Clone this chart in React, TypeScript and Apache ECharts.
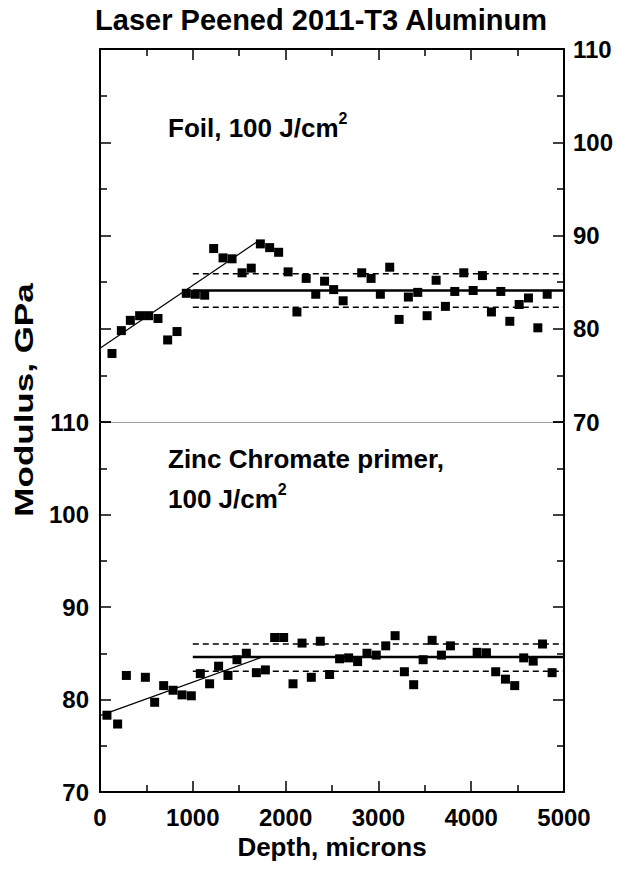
import React, { useEffect, useRef } from "react";
import * as echarts from "echarts";

// ---- Data ----
const foilDepth = [129, 230, 327, 427, 523, 625, 729, 830, 930, 1027, 1128, 1225, 1326, 1423, 1531, 1630, 1728, 1828, 1925, 2027, 2122, 2222, 2325, 2420, 2518, 2620, 2820, 2921, 3021, 3122, 3223, 3323, 3424, 3525, 3622, 3722, 3823, 3920, 4021, 4121, 4218, 4319, 4416, 4517, 4617, 4718, 4819];
const foilModulus = [77.35, 79.8, 80.9, 81.4, 81.4, 81.1, 78.8, 79.7, 83.8, 83.7, 83.6, 88.6, 87.6, 87.5, 86.0, 86.5, 89.1, 88.7, 88.2, 86.1, 81.8, 85.4, 83.7, 85.1, 84.2, 83.0, 86.0, 85.4, 83.7, 86.6, 81.0, 83.4, 83.9, 81.4, 85.2, 82.4, 84.0, 86.0, 84.1, 85.7, 81.8, 84.0, 80.8, 82.6, 83.3, 80.1, 83.7];

const zincDepth = [75, 190, 284, 489, 589, 686, 787, 884, 984, 1081, 1181, 1278, 1379, 1476, 1577, 1685, 1782, 1882, 1979, 2080, 2177, 2277, 2374, 2474, 2582, 2679, 2776, 2877, 2977, 3079, 3180, 3280, 3380, 3482, 3579, 3679, 3776, 4064, 4164, 4264, 4369, 4469, 4566, 4668, 4768, 4872];
const zincModulus = [78.3, 77.35, 82.6, 82.4, 79.7, 81.5, 81.0, 80.5, 80.4, 82.8, 81.7, 83.6, 82.6, 84.3, 85.0, 82.9, 83.2, 86.7, 86.7, 81.7, 86.1, 82.4, 86.3, 82.7, 84.4, 84.5, 84.1, 85.0, 84.8, 85.8, 86.9, 83.0, 81.6, 84.3, 86.4, 84.8, 85.8, 85.1, 85.05, 83.0, 82.2, 81.5, 84.5, 84.15, 86.0, 82.9];

const foilFitLine = [[0, 77.9], [1690, 89.3]];
const foilMean = [[1000, 84.1], [5000, 84.1]];
const foilUpper = [[1000, 85.9], [5000, 85.9]];
const foilLower = [[1000, 82.3], [5000, 82.3]];

const zincFitLine = [[0, 78.25], [1750, 84.6]];
const zincMean = [[1000, 84.6], [5000, 84.6]];
const zincUpper = [[1000, 86.0], [5000, 86.0]];
const zincLower = [[1000, 83.05], [5000, 83.05]];

const xRange = [0, 5000];
const yRange = [70, 110];

const FONT = "'Liberation Sans', Arial, Helvetica, sans-serif";

function App() {
  const ref = useRef<HTMLDivElement>(null);
  useEffect(() => {
    if (!ref.current) return;
    const chart = echarts.init(ref.current, null, { renderer: "svg" });
    const black = "#000";
    const tickLabel = { fontSize: 24, fontWeight: "bold", fontFamily: FONT, color: black, formatter: (v: number) => String(v) };
    const baseX = (gridIndex: number, position: string, showLabel: boolean) => ({
      gridIndex,
      type: "value",
      min: xRange[0],
      max: xRange[1],
      interval: 1000,
      position,
      axisLine: { show: true, onZero: false, lineStyle: { color: black, width: 2 } },
      axisTick: { show: true, inside: true, length: 11, lineStyle: { color: black, width: 1.5 } },
      minorTick: { show: true, splitNumber: 2, length: 7, lineStyle: { color: black, width: 1.5 } },
      axisLabel: { show: showLabel, margin: 13, ...tickLabel },
      splitLine: { show: false },
      minorSplitLine: { show: false },
    });
    const baseY = (gridIndex: number, position: string, showLabel: boolean, margin: number) => ({
      gridIndex,
      type: "value",
      min: yRange[0],
      max: yRange[1],
      interval: 10,
      position,
      axisLine: { show: true, onZero: false, lineStyle: { color: black, width: 2 } },
      axisTick: { show: true, inside: true, length: 11, lineStyle: { color: black, width: 1.5 } },
      minorTick: { show: true, splitNumber: 2, length: 7, lineStyle: { color: black, width: 1.5 } },
      axisLabel: { show: showLabel, margin, ...tickLabel },
      splitLine: { show: false },
      minorSplitLine: { show: false },
    });
    const lineSeries = (data: number[][], xi: number, yi: number, width: number, type: any) => ({
      type: "line",
      xAxisIndex: xi,
      yAxisIndex: yi,
      data,
      symbol: "none",
      showSymbol: false,
      silent: true,
      z: 2,
      lineStyle: { color: black, width, type, opacity: 1 },
    });
    const scatter = (xs: number[], ys: number[], xi: number, yi: number) => ({
      type: "scatter",
      xAxisIndex: xi,
      yAxisIndex: yi,
      symbol: "rect",
      symbolSize: 9,
      itemStyle: { color: black, opacity: 1 },
      z: 3,
      data: xs.map((d, i) => [d, ys[i]]),
    });
    const option: any = {
      animation: false,
      backgroundColor: "#fff",
      grid: [
        { left: 100, right: 65, top: 49, height: 373 },
        { left: 100, right: 65, top: 422, height: 370 },
      ],
      xAxis: [
        baseX(0, "top", false),
        {
          gridIndex: 0,
          type: "value",
          min: xRange[0],
          max: xRange[1],
          position: "bottom",
          axisLine: { show: true, onZero: false, lineStyle: { color: "#a0a0a0", width: 1.2 } },
          axisTick: { show: false },
          axisLabel: { show: false },
          splitLine: { show: false },
        },
        baseX(1, "bottom", true),
      ],
      yAxis: [
        baseY(0, "right", true, 9),
        baseY(0, "left", false, 8),
        baseY(1, "left", true, 11),
        baseY(1, "right", false, 8),
      ],
      series: [
        lineSeries(foilFitLine, 0, 0, 1.2, "solid"),
        lineSeries(foilMean, 0, 0, 2.5, "solid"),
        lineSeries(foilUpper, 0, 0, 1.6, [6, 4]),
        lineSeries(foilLower, 0, 0, 1.6, [6, 4]),
        scatter(foilDepth, foilModulus, 0, 0),
        lineSeries(zincFitLine, 2, 2, 1.2, "solid"),
        lineSeries(zincMean, 2, 2, 2.5, "solid"),
        lineSeries(zincUpper, 2, 2, 1.6, [6, 4]),
        lineSeries(zincLower, 2, 2, 1.6, [6, 4]),
        scatter(zincDepth, zincModulus, 2, 2),
      ],
      graphic: [
        {
          type: "text",
          x: 321,
          y: 20,
          style: {
            text: "Laser Peened 2011-T3 Aluminum",
            font: `bold 29px ${FONT}`,
            fill: black,
            textAlign: "center",
            verticalAlign: "middle",
          },
        },
        {
          type: "text",
          x: 332,
          y: 847,
          style: {
            text: "Depth, microns",
            font: `bold 26px ${FONT}`,
            fill: black,
            textAlign: "center",
            verticalAlign: "middle",
          },
        },
        {
          type: "text",
          x: 24,
          y: 400,
          rotation: Math.PI / 2,
          scaleX: 1.4,
          style: {
            text: "Modulus, GPa",
            font: `bold 25px ${FONT}`,
            fill: black,
            textAlign: "center",
            verticalAlign: "middle",
          },
        },
        {
          type: "text",
          x: 168,
          y: 128,
          style: {
            text: "{a|Foil, 100 J/cm}{s|2}",
            textAlign: "left",
            verticalAlign: "middle",
            rich: {
              a: { fontSize: 26, fontWeight: "bold", fontFamily: FONT, fill: black, lineHeight: 36 },
              s: { fontSize: 16, fontWeight: "bold", fontFamily: FONT, fill: black, lineHeight: 16, verticalAlign: "top" },
            },
          },
        },
        {
          type: "text",
          x: 168,
          y: 459,
          style: {
            text: "Zinc Chromate primer,",
            font: `bold 26px ${FONT}`,
            fill: black,
            textAlign: "left",
            verticalAlign: "middle",
          },
        },
        {
          type: "text",
          x: 168,
          y: 499,
          style: {
            text: "{a|100 J/cm}{s|2}",
            textAlign: "left",
            verticalAlign: "middle",
            rich: {
              a: { fontSize: 26, fontWeight: "bold", fontFamily: FONT, fill: black, lineHeight: 36 },
              s: { fontSize: 16, fontWeight: "bold", fontFamily: FONT, fill: black, lineHeight: 16, verticalAlign: "top" },
            },
          },
        },
      ],
    };
    chart.setOption(option);
    return () => chart.dispose();
  }, []);
  return (
    <div
      ref={ref}
      style={{ position: "absolute", left: 0, top: 0, width: 629, height: 872, background: "#fff" }}
    />
  );
}

export default App;
